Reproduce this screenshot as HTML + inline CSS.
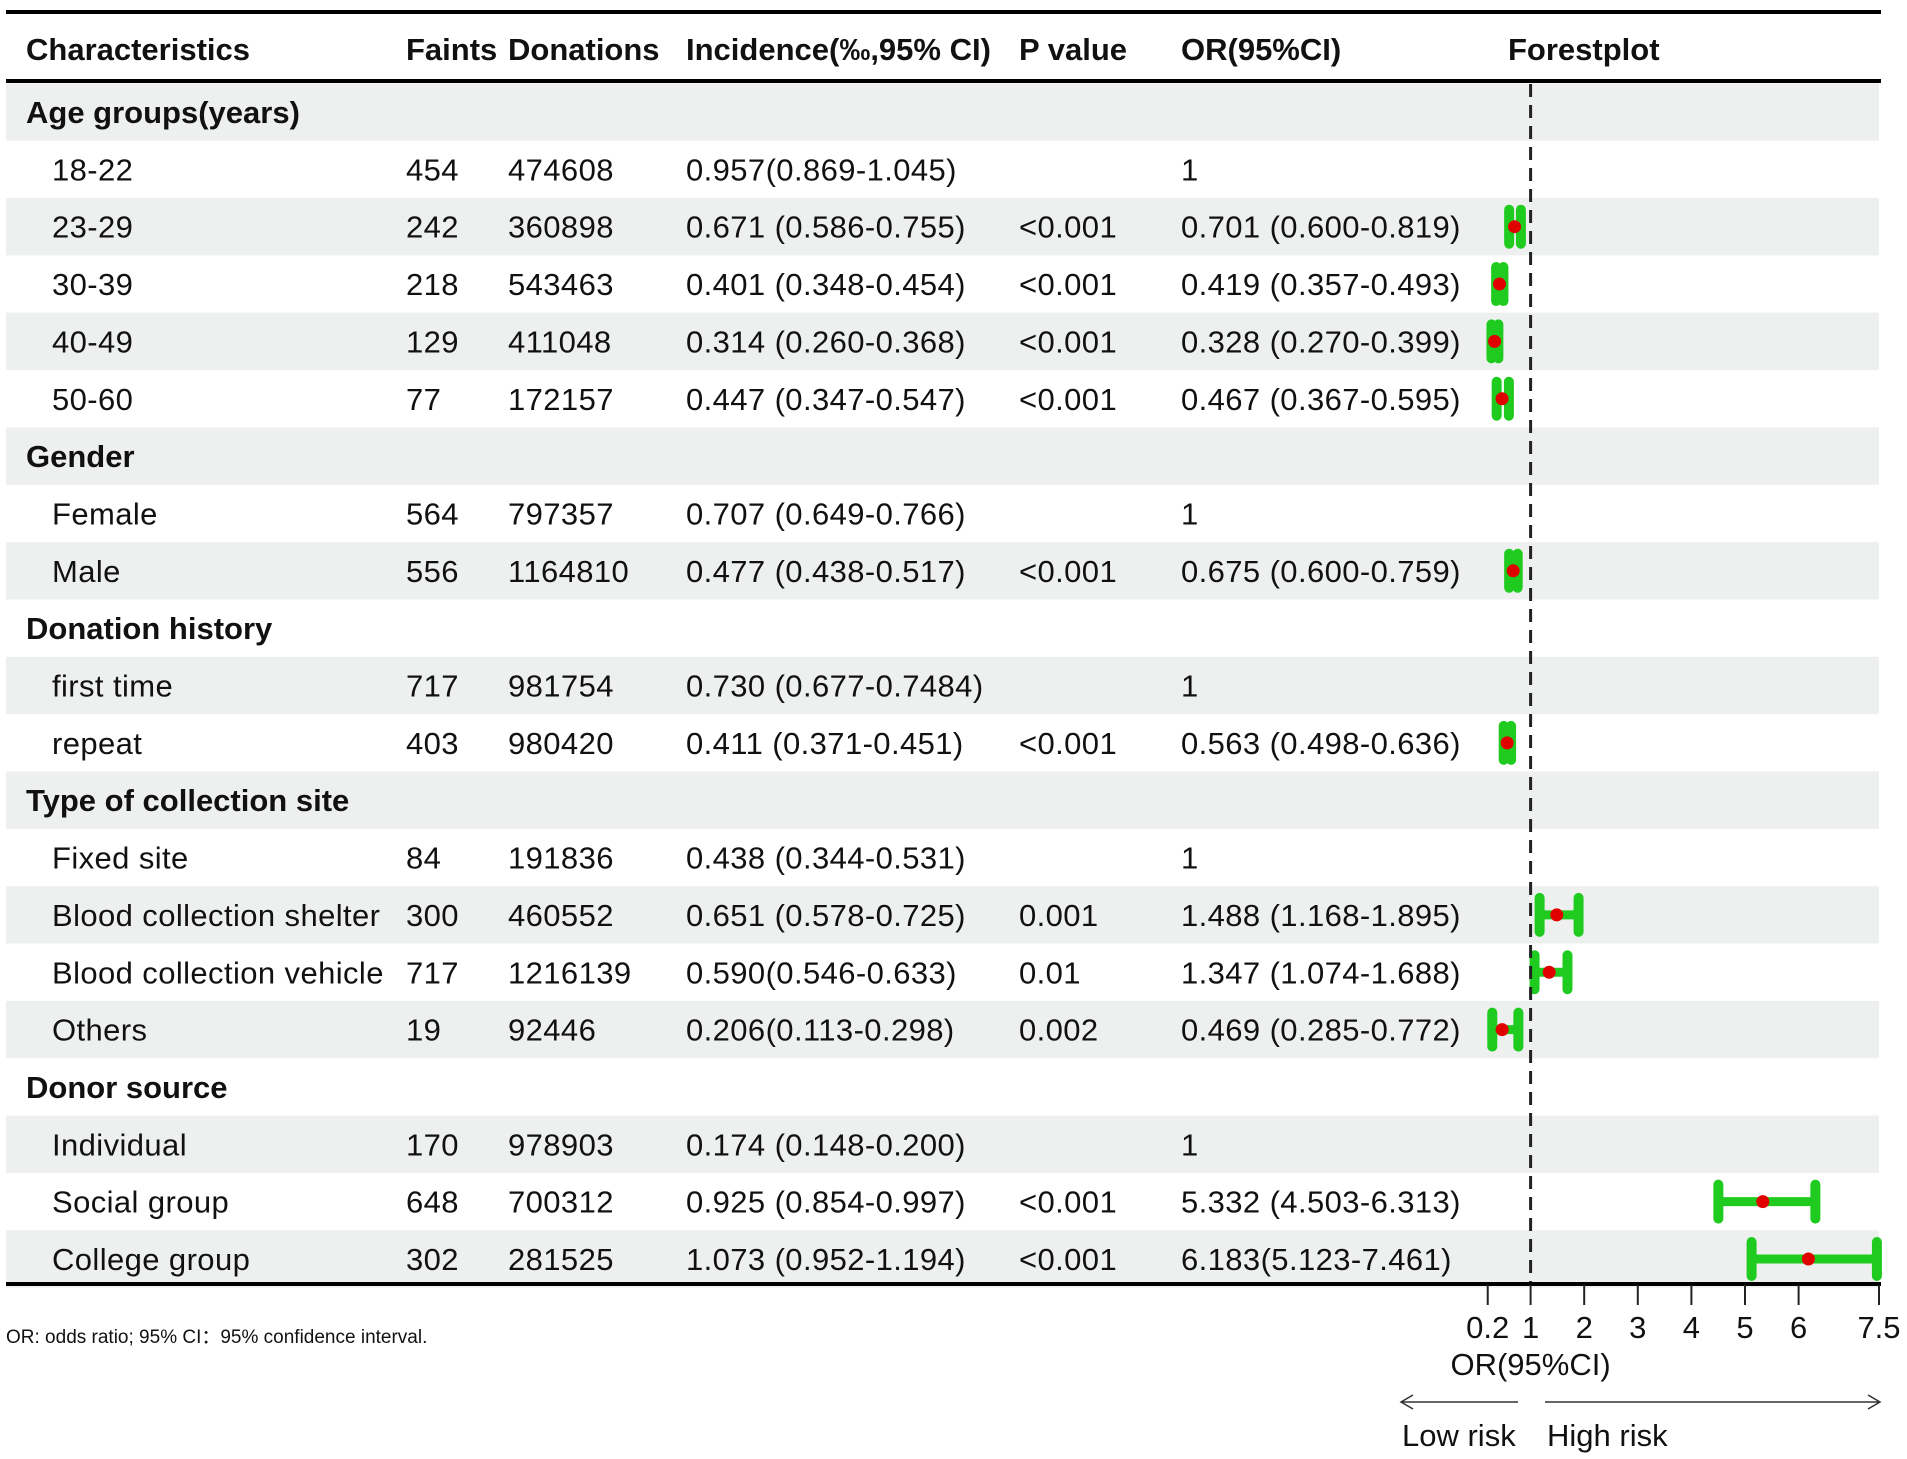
<!DOCTYPE html>
<html><head><meta charset="utf-8"><style>
html,body{margin:0;padding:0;background:#fff;}
svg{display:block;}
text{font-family:"Liberation Sans",Arial,sans-serif;fill:#111;}
</style></head><body>
<svg id="chart" width="1907" height="1459" viewBox="0 0 1907 1459" xmlns="http://www.w3.org/2000/svg">
<g id="bands"></g>
<g id="tabletext"></g>
<g id="marks"></g>
<g id="axis"></g>
</svg>
<script>
const labels = ["Age groups(years)","18-22","23-29","30-39","40-49","50-60","Gender","Female","Male","Donation history","first time","repeat","Type of collection site","Fixed site","Blood collection shelter","Blood collection vehicle","Others","Donor source","Individual","Social group","College group"];
const isHeader = [1,0,0,0,0,0,1,0,0,1,0,0,1,0,0,0,0,1,0,0,0];
const faints = ["","454","242","218","129","77","","564","556","","717","403","","84","300","717","19","","170","648","302"];
const donations = ["","474608","360898","543463","411048","172157","","797357","1164810","","981754","980420","","191836","460552","1216139","92446","","978903","700312","281525"];
const incidence = ["","0.957(0.869-1.045)","0.671 (0.586-0.755)","0.401 (0.348-0.454)","0.314 (0.260-0.368)","0.447 (0.347-0.547)","","0.707 (0.649-0.766)","0.477 (0.438-0.517)","","0.730 (0.677-0.7484)","0.411 (0.371-0.451)","","0.438 (0.344-0.531)","0.651 (0.578-0.725)","0.590(0.546-0.633)","0.206(0.113-0.298)","","0.174 (0.148-0.200)","0.925 (0.854-0.997)","1.073 (0.952-1.194)"];
const pvalues = ["","","<0.001","<0.001","<0.001","<0.001","","","<0.001","","","<0.001","","","0.001","0.01","0.002","","","<0.001","<0.001"];
const orText = ["","1","0.701 (0.600-0.819)","0.419 (0.357-0.493)","0.328 (0.270-0.399)","0.467 (0.367-0.595)","","1","0.675 (0.600-0.759)","","1","0.563 (0.498-0.636)","","1","1.488 (1.168-1.895)","1.347 (1.074-1.688)","0.469 (0.285-0.772)","","1","5.332 (4.503-6.313)","6.183(5.123-7.461)"];
const orEst = [null,null,0.701,0.419,0.328,0.467,null,null,0.675,null,null,0.563,null,null,1.488,1.347,0.469,null,null,5.332,6.183];
const orLow = [null,null,0.600,0.357,0.270,0.367,null,null,0.600,null,null,0.498,null,null,1.168,1.074,0.285,null,null,4.503,5.123];
const orHigh = [null,null,0.819,0.493,0.399,0.595,null,null,0.759,null,null,0.636,null,null,1.895,1.688,0.772,null,null,6.313,7.461];
const tickVals = [0.2,1,2,3,4,5,6,7.5];
const tickLabels = ["0.2","1","2","3","4","5","6","7.5"];

const NS="http://www.w3.org/2000/svg";
const X0=1477, PX=53.6;
const xs = v => X0 + v*PX;
const rowY = i => 112 + i*57.35;
function mk(tag, attrs, parent, txt){
  const e=document.createElementNS(NS,tag);
  for(const k in attrs) e.setAttribute(k,attrs[k]);
  if(txt!==undefined) e.textContent=txt;
  parent.appendChild(e); return e;
}
const bands=document.getElementById('bands');
const tt=document.getElementById('tabletext');
const marks=document.getElementById('marks');
const axis=document.getElementById('axis');

labels.forEach((l,i)=>{
  if(i%2===0){
    const r=mk('rect',{x:6,y:rowY(i)-28.7,width:1873,height:57.35,fill:'#eef0f0'},bands);
    
    
  }
  const y=rowY(i)+11;
  const t=mk('text',{x:isHeader[i]?26:52,y:y,'font-size':31,'letter-spacing':isHeader[i]?0:0.4,'font-weight':isHeader[i]?'bold':'normal'},tt,l);
  
  
  const cols=[[faints,406],[donations,508],[incidence,686],[pvalues,1019],[orText,1181]];
  cols.forEach(([arr,x])=>{
    if(arr[i]){
      const c=mk('text',{x:x,y:y,'font-size':31,'letter-spacing':0.4},tt,arr[i]);
      
      
    }
  });
  if(orEst[i]!==null){
    const g=mk('g',{},marks);
    
    
    const yc=rowY(i);
    mk('line',{x1:xs(orLow[i]),x2:xs(orHigh[i]),y1:yc,y2:yc,stroke:'#1ecb1e','stroke-width':9},g);
    mk('line',{x1:xs(orLow[i]),x2:xs(orLow[i]),y1:yc-17,y2:yc+17,stroke:'#1ecb1e','stroke-width':10,'stroke-linecap':'round'},g);
    mk('line',{x1:xs(orHigh[i]),x2:xs(orHigh[i]),y1:yc-17,y2:yc+17,stroke:'#1ecb1e','stroke-width':10,'stroke-linecap':'round'},g);
    mk('circle',{cx:xs(orEst[i]),cy:yc,r:6.5,fill:'#e00000'},g);
  }
});

const heads=[["Characteristics",26],["Faints",406],["Donations",508],["Incidence(‰,95% CI)",686],["P value",1019],["OR(95%CI)",1181],["Forestplot",1508]];
heads.forEach(([h,x])=>{
  const t=mk('text',{x:x,y:60,'font-size':31,'font-weight':'bold'},tt,h);
  
  
});
[[12,'top-rule'],[81,'header-rule'],[1284,'bottom-rule']].forEach(([y,n])=>{
  const l=mk('line',{x1:6,x2:1881,y1:y,y2:y,stroke:'#000','stroke-width':4},axis);
  
  
});
const ref=mk('line',{x1:xs(1),x2:xs(1),y1:84,y2:1282,stroke:'#222','stroke-width':3,'stroke-dasharray':'13 8'},axis);


tickVals.forEach((v,k)=>{
  const tk=mk('line',{x1:xs(v),x2:xs(v),y1:1285,y2:1305,stroke:'#222','stroke-width':2},axis);
  
  
  const lb=mk('text',{x:xs(v),y:1338,'font-size':31,'text-anchor':'middle'},axis,tickLabels[k]);
  
  
});
const xt=mk('text',{x:xs(1),y:1375,'font-size':31,'text-anchor':'middle'},axis,'OR(95%CI)');


const la=mk('path',{d:'M1518 1402 L1401 1402 M1413 1395 L1401 1402 L1413 1409',stroke:'#333','stroke-width':1.5,fill:'none'},axis);


const ra=mk('path',{d:'M1545 1402 L1880 1402 M1868 1395 L1880 1402 L1868 1409',stroke:'#333','stroke-width':1.5,fill:'none'},axis);


const lr=mk('text',{x:1402,y:1446,'font-size':31},axis,'Low risk');


const hr=mk('text',{x:1547,y:1446,'font-size':31},axis,'High risk');


const fn=mk('text',{x:6,y:1343,'font-size':19},axis,'OR: odds ratio; 95% CI\uFF1A95% confidence interval.');


</script>
</body></html>
